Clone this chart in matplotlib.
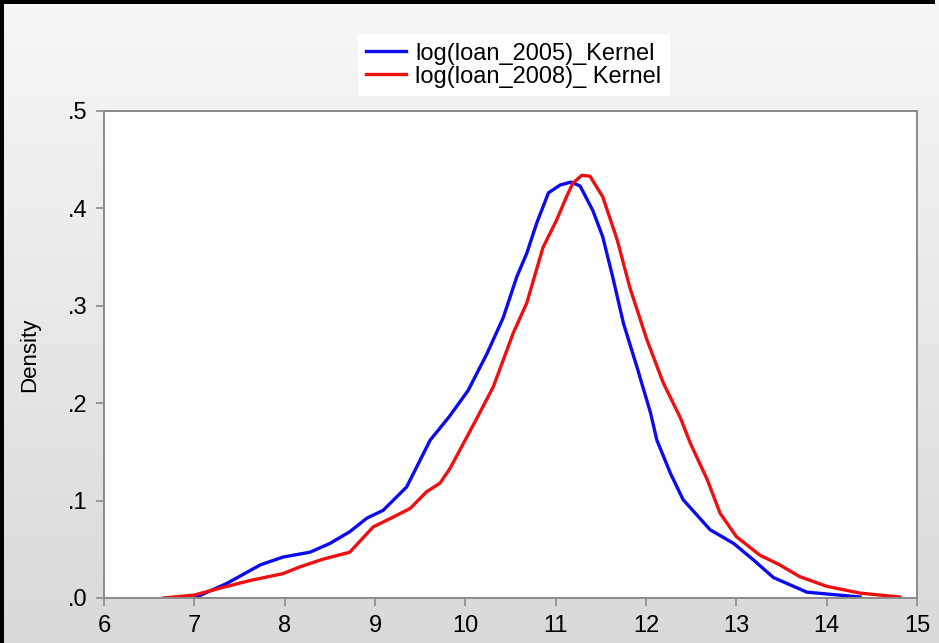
import numpy as np
import matplotlib.pyplot as plt
from matplotlib.patches import Rectangle

# kernel density curves
x_2005 = [7.00, 7.36, 7.73, 7.98, 8.28, 8.50, 8.72, 8.91, 9.09, 9.35, 9.61, 9.82,
          10.03, 10.24, 10.42, 10.57, 10.68, 10.79, 10.92, 11.05, 11.17, 11.27,
          11.41, 11.52, 11.63, 11.75, 11.90, 12.05, 12.12, 12.27, 12.41, 12.71,
          12.97, 13.19, 13.41, 13.78, 14.37]
y_2005 = [0.000, 0.015, 0.034, 0.042, 0.047, 0.056, 0.068, 0.082, 0.090, 0.114, 0.162, 0.186,
          0.213, 0.251, 0.288, 0.330, 0.354, 0.385, 0.416, 0.424, 0.427, 0.423,
          0.398, 0.371, 0.330, 0.282, 0.237, 0.190, 0.162, 0.128, 0.101, 0.070,
          0.056, 0.039, 0.021, 0.006, 0.001]

x_2008 = [6.66, 7.00, 7.32, 7.62, 7.98, 8.17, 8.43, 8.72, 8.98, 9.20, 9.39, 9.57, 9.72,
          9.83, 10.13, 10.31, 10.53, 10.68, 10.86, 11.01, 11.12, 11.19, 11.29, 11.38,
          11.52, 11.68, 11.82, 12.01, 12.19, 12.38, 12.49, 12.68, 12.82, 13.00,
          13.26, 13.48, 13.70, 14.00, 14.37, 14.81]
y_2008 = [0.000, 0.003, 0.011, 0.018, 0.025, 0.032, 0.040, 0.047, 0.073, 0.083, 0.092, 0.109, 0.118,
          0.133, 0.185, 0.217, 0.272, 0.303, 0.360, 0.388, 0.412, 0.426, 0.434, 0.433,
          0.412, 0.368, 0.319, 0.265, 0.221, 0.185, 0.159, 0.121, 0.087, 0.063,
          0.044, 0.034, 0.022, 0.012, 0.005, 0.001]

x_ticks = list(range(6, 16))
y_ticks = [0.0, 0.1, 0.2, 0.3, 0.4, 0.5]
y_tick_labels = ['.0', '.1', '.2', '.3', '.4', '.5']

plt.rcParams['font.family'] = ['Liberation Sans', 'DejaVu Sans']

fig = plt.figure(figsize=(9.39, 6.43), dpi=100, facecolor='#e6e6e6')

# light gray gradient behind everything (figure coords)
n_strips = 60
for i in range(n_strips):
    g = 0.85 + 0.115 * (i + 0.5) / n_strips
    fig.patches.append(Rectangle((0, i / n_strips), 1, 1.0 / n_strips + 0.002,
                                 transform=fig.transFigure, facecolor=(g, g, g),
                                 edgecolor='none', zorder=-10))
# black frame on left and top
fig.patches.append(Rectangle((0, 0), 0.004, 1, transform=fig.transFigure,
                             facecolor='black', edgecolor='none', zorder=-5))
fig.patches.append(Rectangle((0, 0.994), 0.996, 0.006, transform=fig.transFigure,
                             facecolor='black', edgecolor='none', zorder=-5))

ax = fig.add_axes([0.1108, 0.070, 0.8658, 0.7574])
ax.set_facecolor('white')
ax.plot(x_2005, y_2005, color='#0b0bee', lw=2.4, label='log(loan_2005)_Kernel',
        solid_joinstyle='round')
ax.plot(x_2008, y_2008, color='#ee1010', lw=2.4, label='log(loan_2008)_ Kernel',
        solid_joinstyle='round')

ax.set_xlim(6, 15)
ax.set_ylim(0, 0.5)
ax.set_xticks(x_ticks)
ax.set_yticks(y_ticks)
ax.set_yticklabels(y_tick_labels)
ax.tick_params(axis='both', direction='out', length=6, width=1.2, color='#8a8a8a',
               labelsize=17, labelcolor='black', pad=6)
for s in ax.spines.values():
    s.set_color('#8a8a8a')
    s.set_linewidth(1.4)
ax.set_ylabel('Density', fontsize=16, labelpad=20)

leg = fig.legend(loc='upper center', bbox_to_anchor=(0.547, 0.965), fontsize=17,
                 handlelength=1.7, handletextpad=0.4, labelspacing=0.05,
                 fancybox=False, framealpha=1, facecolor='white', edgecolor='none',
                 borderpad=0.35)

fig.savefig('out.png', dpi=100, facecolor=fig.get_facecolor())
